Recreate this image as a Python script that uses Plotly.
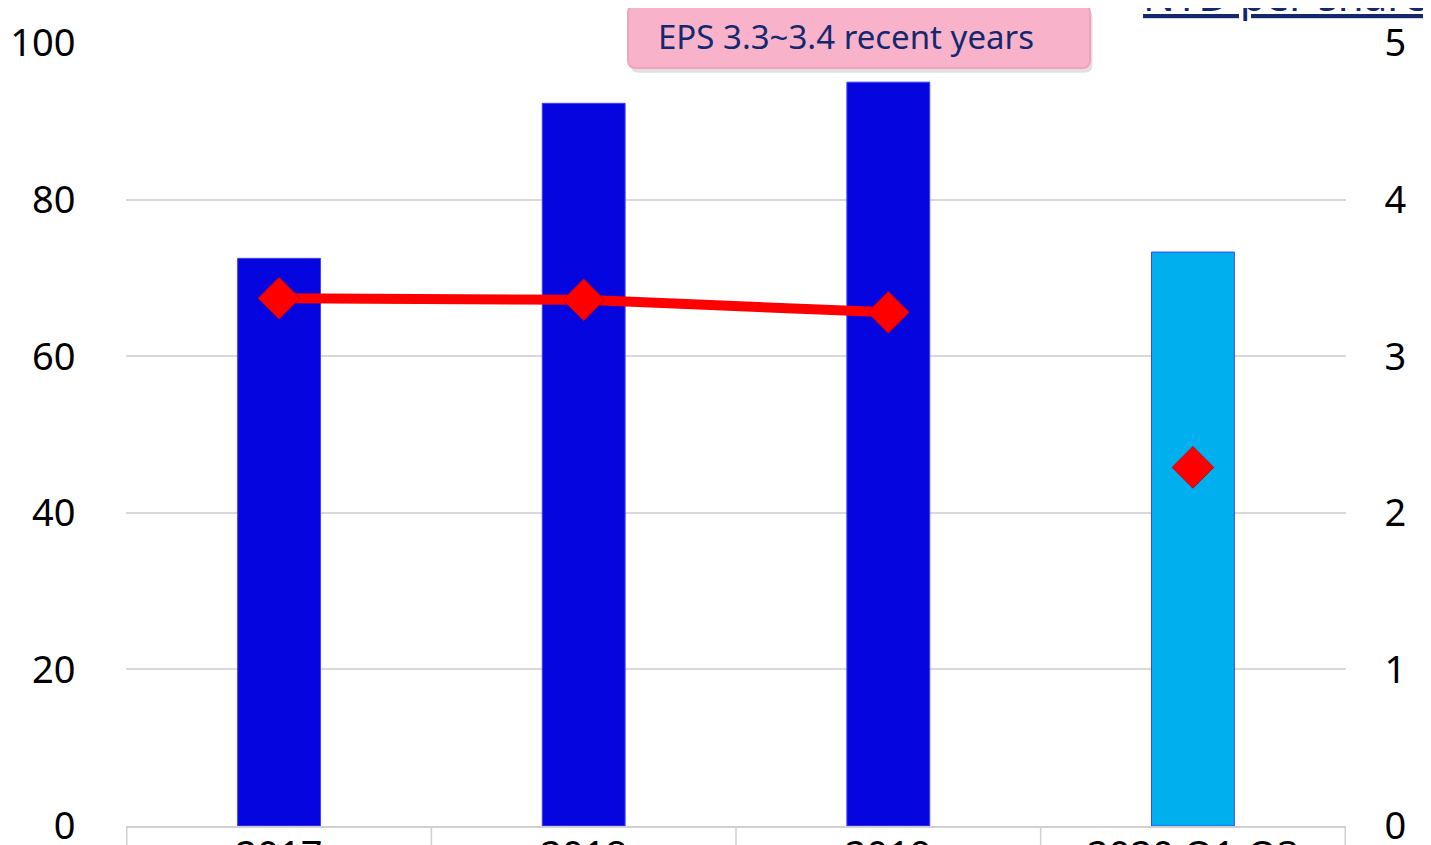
import plotly.graph_objects as go

categories = ["2017", "2018", "2019", "2020 Q1-Q3"]
bar_values = [72.5, 92.3, 95.0, 73.3]
bar_colors = ["#0505e0", "#0505e0", "#0505e0", "#00b0ee"]
eps_values = [3.37, 3.36, 3.28, 2.29]
left_ticks = [0, 20, 40, 60, 80, 100]
right_ticks = [0, 1, 2, 3, 4, 5]

fig = go.Figure()
fig.add_trace(go.Bar(
    x=categories, y=bar_values,
    marker=dict(color=bar_colors, line=dict(color="#4040ff", width=1)),
    width=0.272, yaxis="y", showlegend=False,
))
fig.add_trace(go.Scatter(
    x=categories[:3], y=eps_values[:3], mode="lines",
    line=dict(color="#ff0000", width=10), yaxis="y2", showlegend=False,
))
fig.add_trace(go.Scatter(
    x=categories, y=eps_values, mode="markers",
    marker=dict(symbol="diamond", size=32, color="#ff0000",
                line=dict(color="#d00000", width=1)),
    yaxis="y2", showlegend=False,
))

font_family = "Noto Sans, Open Sans, sans-serif"
# page body has an 8px default margin; size/margins compensate for it
fig.update_layout(
    width=1423, height=837,
    margin=dict(l=118, r=85, t=35, b=19),
    plot_bgcolor="white", paper_bgcolor="white",
    font=dict(family=font_family, color="black"),
    xaxis=dict(
        showline=True, linecolor="#d0d0d0", linewidth=2, automargin=False,
        ticks="", tickfont=dict(size=38), showgrid=False, ticklabelstandoff=-6,
        ticklabeloverflow="allow",
    ),
    yaxis=dict(
        range=[0, 100], tickvals=left_ticks, showgrid=True, gridcolor="#d9d9d9",
        gridwidth=1.5, tickfont=dict(size=38), ticks="outside", ticklen=42,
        tickcolor="rgba(0,0,0,0)", zeroline=False, automargin=False,
        ticklabeloverflow="allow",
    ),
    yaxis2=dict(
        range=[0, 5], tickvals=right_ticks, overlaying="y", side="right",
        showgrid=False, tickfont=dict(size=38), ticks="outside", ticklen=30,
        tickcolor="rgba(0,0,0,0)", zeroline=False, automargin=False,
        ticklabeloverflow="allow",
    ),
)

# category divider ticks below the x axis
for b in [-0.5, 0.5, 1.5, 2.5, 3.5]:
    fig.add_shape(type="line", xref="x", yref="paper", x0=b, x1=b, y0=0, y1=-0.03,
                  line=dict(color="#d0d0d0", width=1.5))


def rounded_rect(x0, y0, x1, y1, rx, ry):
    return (f"M{x0+rx},{y0} L{x1-rx},{y0} Q{x1},{y0} {x1},{y0+ry} "
            f"L{x1},{y1-ry} Q{x1},{y1} {x1-rx},{y1} L{x0+rx},{y1} "
            f"Q{x0},{y1} {x0},{y1-ry} L{x0},{y0+ry} Q{x0},{y0} {x0+rx},{y0} Z")


# callout box (shadow + pink box)
fig.add_shape(type="path", xref="paper", yref="paper",
              path=rounded_rect(0.4135, 0.9620, 0.7922, 1.0430, 0.0066, 0.0102),
              fillcolor="rgba(0,0,0,0.12)", line=dict(width=0), layer="above")
fig.add_shape(type="path", xref="paper", yref="paper",
              path=rounded_rect(0.4115, 0.9681, 0.7902, 1.0485, 0.0066, 0.0102),
              fillcolor="#f8b3cb", line=dict(color="#f2a2bf", width=2), layer="above")

fig.add_annotation(
    text="EPS 3.3~3.4 recent years", xref="paper", yref="paper",
    x=0.590, y=1.0077, yanchor="middle", xanchor="center", showarrow=False,
    font=dict(size=33, color="#14286e", family=font_family),
)
fig.add_annotation(
    text="<u>NTD per share</u>", xref="paper", yref="paper",
    x=0.832, y=1.0, yshift=18, xanchor="left", yanchor="bottom", showarrow=False,
    font=dict(size=42, color="#14286e", family=font_family),
)

fig.write_html("out.html")
